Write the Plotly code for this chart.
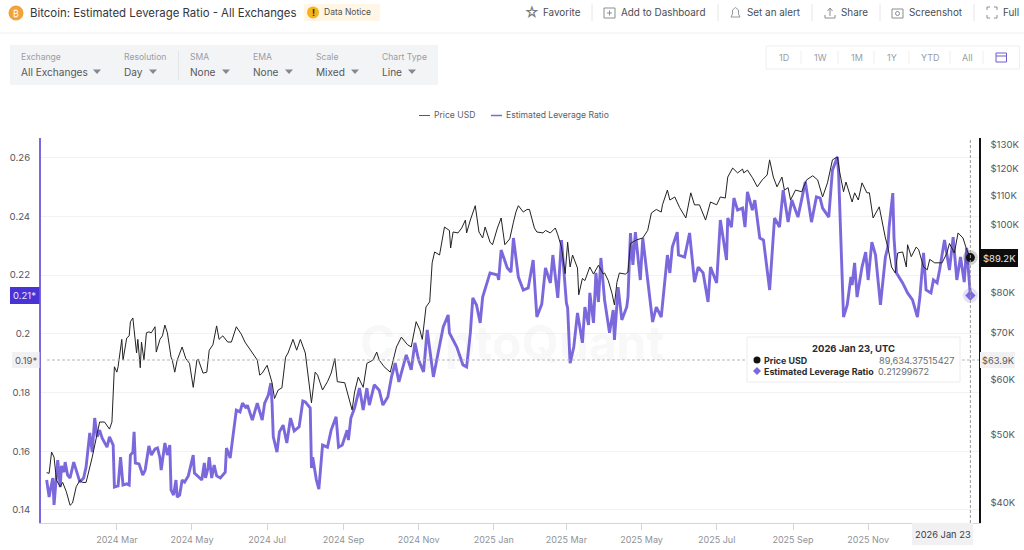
import pandas as pd
import plotly.graph_objects as go

W, H = 1024, 550
START = "2024-01-01"

lev_days = [3,4,5,6,8,9,12,14,15,17,18,20,22,25,28,30,33,35,38,40,42,44,46,48,52,54,57,58,61,62,63,65,68,70,71,73,74,75,78,81,83,86,88,91,93,95,96,99,101,103,104,106,108,109,111,113,115,118,122,123,125,127,129,131,132,134,135,137,139,141,144,148,149,152,153,155,157,160,162,165,166,170,174,178,180,183,185,186,187,190,192,195,198,201,204,208,211,213,217,218,219,222,224,227,231,234,238,240,243,247,248,250,253,257,260,263,265,269,273,276,280,283,286,289,295,299,302,305,309,312,317,325,329,330,336,341,344,347,349,352,355,357,363,369,370,372,377,380,382,386,390,394,398,401,405,408,412,414,418,421,425,426,428,431,434,438,440,443,444,447,449,451,453,456,460,463,464,467,470,474,475,477,479,481,485,487,490,495,498,502,507,509,511,515,516,521,525,529,532,536,540,542,546,547,550,555,556,559,561,564,568,570,572,576,578,582,585,590,594,598,601,605,608,613,619,624,628,631,633,638,641,645,646,648,650,653,656,657,659,661,665,668,670,673,676,680,684,686,687,690,691,693,698,702,706,710,712,715,717,721,723,726,728,732,736,739,742,745,748,750,752,753]
lev_vals = [.1502,.1468,.1444,.1468,.1509,.1417,.1570,.1478,.1550,.1529,.1563,.1519,.1509,.1563,.1519,.1495,.1509,.1546,.1662,.1597,.1713,.1649,.1672,.1645,.1614,.1649,.1621,.1478,.1482,.1536,.1580,.1485,.1489,.1485,.1587,.1597,.1666,.1560,.1557,.1519,.1536,.1618,.1587,.1608,.1611,.1577,.1536,.1628,.1587,.1621,.1468,.1451,.1502,.1444,.1451,.1502,.1495,.1516,.1587,.1526,.1519,.1509,.1502,.1560,.1509,.1543,.1580,.1509,.1553,.1516,.1509,.1529,.1611,.1577,.1611,.1672,.1740,.1734,.1764,.1747,.1757,.1706,.1764,.1706,.1764,.1791,.1832,.1764,.1649,.1597,.1666,.1689,.1628,.1713,.1669,.1683,.1771,.1768,.1747,.1543,.1580,.1502,.1471,.1621,.1614,.1672,.1717,.1614,.1621,.1672,.1638,.1713,.1747,.1815,.1740,.1815,.1757,.1826,.1808,.1757,.1785,.1853,.1900,.1836,.1928,.1877,.1969,.1911,.1870,.2013,.1853,.2023,.2064,.2003,.1955,.1894,.1887,.2003,.2122,.2098,.2037,.2125,.2207,.2200,.2183,.2285,.2224,.2210,.2326,.2193,.2149,.2156,.2251,.2057,.2101,.2224,.2173,.2268,.2122,.2319,.2105,.2088,.1900,.1955,.2071,.1969,.2091,.2030,.2139,.2037,.2207,.2108,.2258,.2115,.2003,.2081,.1979,.2159,.2047,.2091,.2125,.2343,.2234,.2346,.2183,.2326,.2217,.2040,.2091,.2057,.2268,.2207,.2295,.2346,.2268,.2261,.2343,.2176,.2227,.2207,.2108,.2227,.2183,.2173,.2387,.2251,.2394,.2363,.2462,.2421,.2428,.2363,.2483,.2421,.2455,.2326,.2319,.2149,.2394,.2363,.2489,.2380,.2455,.2397,.2517,.2380,.2466,.2462,.2428,.2397,.2557,.2602,.2547,.2261,.2057,.2098,.2193,.2166,.2241,.2125,.2227,.2278,.2183,.2312,.2268,.2098,.2261,.2295,.2363,.2479,.2326,.2207,.2173,.2139,.2115,.2057,.2125,.2275,.2149,.2139,.2183,.2173,.2217,.2319,.2217,.2329,.2183,.2261,.2176,.2292,.2173,.21299672]

price_days = [3,5,7,9,11,14,16,19,22,24,27,30,32,35,40,44,46,50,54,56,57,58,60,61,64,65,68,70,71,73,74,76,77,79,80,82,84,86,88,91,92,95,97,99,101,104,105,107,109,113,116,119,122,125,126,130,133,135,138,141,143,146,150,153,157,161,164,168,174,176,178,182,184,186,188,191,194,197,199,203,206,209,213,215,218,221,223,225,227,231,234,237,239,245,247,251,253,256,260,263,268,271,273,277,282,287,291,296,299,303,306,308,311,314,316,318,322,326,330,331,333,337,340,343,344,347,351,354,357,359,363,365,369,372,375,379,382,384,386,390,393,395,399,401,406,408,412,416,418,421,424,426,428,430,434,435,438,440,444,447,451,455,456,459,462,464,466,468,473,475,477,482,487,491,494,498,502,503,507,509,513,517,522,526,529,533,538,542,547,550,554,556,560,564,568,569,572,576,580,584,588,590,593,596,600,602,605,607,611,616,620,625,629,633,637,641,645,647,650,652,657,659,662,665,669,671,674,679,684,686,689,692,694,698,701,702,705,709,711,715,718,720,724,730,734,736,740,743,747,750,753]
price_vals = [44.2,44.1,47.3,46.5,43.1,42.2,42.8,41.5,39.7,40.0,42.2,43.1,42.8,42.8,46.5,50.0,52.2,52.2,51.0,52.2,56.4,62.6,61.5,62.6,68.5,64.0,68.8,69.3,72.6,73.5,70.7,65.5,68.5,62.4,67.9,64.0,70.0,70.2,70.0,71.4,65.7,68.5,69.3,71.8,70.0,64.6,64.0,61.5,64.0,66.8,64.3,63.3,58.5,64.0,64.2,61.3,61.5,66.1,67.3,71.6,68.5,69.3,67.9,67.9,71.4,69.7,67.9,66.4,64.0,60.9,61.3,62.9,61.3,59.4,56.4,58.0,58.4,64.6,65.5,68.5,66.1,68.5,65.5,61.3,55.6,61.5,60.9,59.4,58.0,59.6,61.3,64.3,59.6,59.4,57.6,54.3,57.6,60.5,58.5,63.3,64.0,65.7,64.0,62.6,61.5,66.8,69.0,67.3,66.8,72.6,70.7,68.5,76.2,77.5,88.1,91.3,90.4,99.1,98.0,92.5,97.5,97.2,98.8,101.4,97.2,101.4,106.3,97.5,95.6,99.1,94.3,93.5,98.8,102.1,93.5,95.3,100.7,104.1,106.3,104.1,105.0,105.0,98.8,97.5,97.2,98.0,97.2,98.8,96.6,92.8,85.0,94.3,86.9,90.4,86.6,79.3,83.7,83.1,86.9,84.9,87.4,84.9,85.2,83.1,79.7,76.7,82.6,85.2,84.9,85.5,93.9,95.0,95.6,98.0,103.8,105.0,104.1,106.6,111.9,108.3,109.4,105.6,102.1,110.9,106.6,106.6,101.4,107.6,106.6,109.4,109.0,116.8,120.3,118.4,119.9,118.4,119.5,116.6,113.1,115.7,117.6,123.6,116.8,113.1,116.8,111.9,112.8,108.3,111.9,111.3,115.7,117.3,115.7,109.4,114.6,123.6,124.8,118.4,111.3,114.9,107.6,110.9,108.3,114.6,110.9,110.9,102.1,105.9,95.6,92.8,86.9,85.2,91.0,91.3,86.9,93.5,89.9,92.8,92.0,86.9,86.1,89.1,88.1,88.1,91.0,93.9,91.0,97.2,95.6,92.0,89.63437515]

x_ticks = ["2024-03-01","2024-05-01","2024-07-01","2024-09-01","2024-11-01","2025-01-01","2025-03-01","2025-05-01","2025-07-01","2025-09-01","2025-11-01"]
x_labels = ["2024 Mar","2024 May","2024 Jul","2024 Sep","2024 Nov","2025 Jan","2025 Mar","2025 May","2025 Jul","2025 Sep","2025 Nov"]
lev_ticks = [0.14,0.16,0.18,0.20,0.22,0.24,0.26]
lev_labels = ["0.14","0.16","0.18","0.2","0.22","0.24","0.26"]
price_ticks = [40,50,60,70,80,100,110,120,130]

FONT = "Inter"
PURPLE = "#7B68DC"
GREY = "#8a8d93"
DARK = "#3a3d42"

def dates(days):
    return pd.to_datetime(START) + pd.to_timedelta(days, unit="D")

lev_x = dates(lev_days)
price_x = dates(price_days)
price_usd = [v * 1000 for v in price_vals]

fig = go.Figure()
fig.add_trace(go.Scatter(x=lev_x, y=lev_vals, mode="lines", name="Estimated Leverage Ratio",
                         line=dict(color=PURPLE, width=2.9), yaxis="y", hoverinfo="skip"))
fig.add_trace(go.Scatter(x=price_x, y=price_usd, mode="lines", name="Price USD",
                         line=dict(color="#222222", width=1), yaxis="y2", hoverinfo="skip"))
# hover halos and end markers
fig.add_trace(go.Scatter(x=lev_x[-1:], y=lev_vals[-1:], mode="markers", yaxis="y", hoverinfo="skip",
                         marker=dict(symbol="circle", size=15, color="rgba(123,104,220,0.2)")))
fig.add_trace(go.Scatter(x=lev_x[-1:], y=lev_vals[-1:], mode="markers", yaxis="y", hoverinfo="skip",
                         marker=dict(symbol="diamond", size=8, color=PURPLE)))
fig.add_trace(go.Scatter(x=price_x[-1:], y=price_usd[-1:], mode="markers", yaxis="y2", hoverinfo="skip",
                         marker=dict(symbol="circle", size=15, color="rgba(0,0,0,0.18)")))
fig.add_trace(go.Scatter(x=price_x[-1:], y=price_usd[-1:], mode="markers", yaxis="y2", hoverinfo="skip",
                         marker=dict(symbol="circle", size=9, color="#111111")))

def px(x): return x / W
def py(y): return 1 - y / H

shapes, annos = [], []

def rect(x0, y0, x1, y1, fill="rgba(0,0,0,0)", line="rgba(0,0,0,0)", lw=1, layer="above"):
    shapes.append(dict(type="rect", xref="paper", yref="paper", x0=px(x0), x1=px(x1), y0=py(y0), y1=py(y1),
                       fillcolor=fill, line=dict(color=line, width=lw), layer=layer))

def seg(x0, y0, x1, y1, color="#e9e9ec", lw=1, dash="solid"):
    shapes.append(dict(type="line", xref="paper", yref="paper", x0=px(x0), x1=px(x1), y0=py(y0), y1=py(y1),
                       line=dict(color=color, width=lw, dash=dash), layer="above"))

def circ(x, y, r, fill, line="rgba(0,0,0,0)"):
    shapes.append(dict(type="circle", xref="paper", yref="paper", x0=px(x-r), x1=px(x+r), y0=py(y+r), y1=py(y-r),
                       fillcolor=fill, line=dict(color=line, width=1), layer="above"))

def path(pts, fill="rgba(0,0,0,0)", line="rgba(0,0,0,0)", lw=1, close=True):
    d = "M " + " L ".join(f"{px(a):.5f},{py(b):.5f}" for a, b in pts) + (" Z" if close else "")
    shapes.append(dict(type="path", xref="paper", yref="paper", path=d, fillcolor=fill,
                       line=dict(color=line, width=lw), layer="above"))

def text(x, y, s, size=10, color=DARK, anchor="left", weight=None):
    t = f"<b>{s}</b>" if weight else s
    nudge = {"left": -1, "right": 1}.get(anchor, 0)
    annos.append(dict(xref="paper", yref="paper", x=px(x + nudge), y=py(y), text=t, showarrow=False,
                      xanchor=anchor, yanchor="middle", align=anchor, borderpad=0,
                      font=dict(family=FONT, size=size, color=color)))

def caret(x, y):
    path([(x-4, y-2), (x+4, y-2), (x, y+2.5)], fill="#85888e")

# watermark
text(512, 342, "CryptoQuant", size=48, color="rgba(60,60,70,0.055)", anchor="center", weight=True)

# title row
circ(16, 13, 7.5, "#F2A13B")
text(16, 13, "₿", size=9, color="#ffffff", anchor="center")
text(30, 13, "Bitcoin: Estimated Leverage Ratio - All Exchanges", size=11.4, color="#33363b")
rect(304, 4, 380, 21, fill="#FFF6E6")
circ(313, 12.5, 6, "#F5B31E")
text(313, 12.5, "!", size=9, color="#3a2a00", anchor="center", weight=True)
text(324, 12.5, "Data Notice", size=8.5, color="#55514a")
seg(0, 33, W, 33, color="#efeff1")

# top-right actions
for x, s in [(543, "Favorite"), (621, "Add to Dashboard"), (747, "Set an alert"),
             (841, "Share"), (909, "Screenshot"), (1003, "Full")]:
    text(x, 12.5, s, size=9.9, color="#4a4d52")
for x in [592, 718, 812, 880, 974]:
    seg(x, 4, x, 21, color="#e6e6e9")
text(532, 12.5, "☆", size=15, color="#777a80", anchor="center")
rect(604, 8, 615, 18, line="#8a8d93")
seg(607, 13, 612, 13, color="#8a8d93"); seg(609.5, 10.5, 609.5, 15.5, color="#8a8d93")
path([(731, 17), (740, 17), (738.5, 14), (738.5, 10), (735.5, 7.5), (732.5, 10), (732.5, 14)], line="#8a8d93", lw=0.9)
path([(830, 9), (830, 16)], line="#8a8d93", close=False)
path([(827.5, 11), (830, 8), (832.5, 11)], line="#8a8d93", close=False)
path([(825, 15), (825, 18), (835, 18), (835, 15)], line="#8a8d93", close=False)
rect(892, 9, 903, 18, line="#8a8d93")
circ(897.5, 13.5, 2, "rgba(0,0,0,0)", line="#8a8d93")
for a, b, c, d in [(987, 10, 987, 7), (987, 7, 990, 7), (994, 7, 997, 7), (997, 7, 997, 10),
                   (987, 15, 987, 18), (987, 18, 990, 18), (994, 18, 997, 18), (997, 15, 997, 18)]:
    seg(a, b, c, d, color="#8a8d93")

# filter bar
rect(10, 45, 438, 85, fill="#F3F4F6")
seg(178.5, 51, 178.5, 80, color="#e3e4e8")
for x, lab, val, cx in [(21, "Exchange", "All Exchanges", 97), (124, "Resolution", "Day", 153),
                        (190, "SMA", "None", 226), (253, "EMA", "None", 289),
                        (316, "Scale", "Mixed", 355), (382, "Chart Type", "Line", 412)]:
    text(x, 57, lab, size=8.6, color="#9a9da3")
    text(x, 71.5, val, size=10.1, color="#55585e")
    caret(cx, 71.5)

# range selector
rect(766, 46, 1019.5, 69, line="#eeeef0", fill="#ffffff")
for x, s in [(784, "1D"), (820, "1W"), (857, "1M"), (892, "1Y"), (930, "YTD"), (967, "All")]:
    text(x, 57.5, s, size=9, color="#9a9da3", anchor="center")
for x in [801, 838, 874, 909, 950, 983]:
    seg(x, 51, x, 64, color="#eeeef0")
rect(996, 53, 1006.5, 62, line="#6E5BD0")
seg(996, 56, 1006.5, 56, color="#6E5BD0")

# legend
seg(419, 115.5, 430, 115.5, color="#55585e")
text(434, 115.5, "Price USD", size=8.6, color="#5b5e64")
seg(491, 115.5, 502, 115.5, color=PURPLE, lw=1.5)
text(506, 115.5, "Estimated Leverage Ratio", size=8.6, color="#5b5e64")

# crosshair (date + level taken from the end of the data)
shapes.append(dict(type="line", xref="x", yref="paper", x0=lev_x[-1], x1=lev_x[-1], y0=py(523), y1=py(138),
                   line=dict(color="#9a9a9a", width=1, dash="3px,2px"), layer="above"))
seg(47, 360, 979, 360, color="#b5b5b5", dash="3px,2px")

# axis badges
rect(10, 287, 39.5, 304, fill="#4A33D6")
text(24.5, 295.5, "0.21*", size=9.5, color="#e8e6fb", anchor="center")
rect(12, 352, 39.5, 368, fill="#F1F1F3")
text(26, 360, "0.19*", size=9.5, color="#55585e", anchor="center")
rect(980, 249, 1018, 267, fill="#0d0d0d")
text(999, 258, "$89.2K", size=9.5, color="#e8e8e8", anchor="center")
rect(980, 352, 1015, 368, fill="#F1F1F3")
text(997.5, 360, "$63.9K", size=9.3, color="#55585e", anchor="center")
rect(912, 523, 973, 545, fill="#F1F1F3")
text(943, 534, "2026 Jan 23", size=9.3, color="#3a3d42", anchor="center")

# tooltip
rect(747, 337, 960, 382, fill="#ffffff", line="#ececef")
text(853, 348, "2026 Jan 23, UTC", size=9.5, color="#2a2c30", anchor="center", weight=True)
circ(757, 360, 3.5, "#111111")
text(764, 360, "Price USD", size=8.9, color="#2a2c30", weight=True)
text(954, 360, "89,634.37515427", size=9.2, color="#6a6d73", anchor="right")
path([(757, 367), (761, 371), (757, 375), (753, 371)], fill=PURPLE)
text(764, 371.5, "Estimated Leverage Ratio", size=8.9, color="#2a2c30", weight=True)
text(878, 371.5, "0.21299672", size=9.2, color="#6a6d73")

fig.update_layout(
    width=W, height=H, autosize=False, showlegend=False,
    margin=dict(l=0, r=0, t=0, b=0, pad=0),
    paper_bgcolor="#ffffff", plot_bgcolor="#ffffff",
    font=dict(family=FONT, size=10, color="#55585e"),
    shapes=shapes, annotations=annos,
    xaxis=dict(domain=[px(40.5), px(979)], type="date", range=["2023-12-30", "2026-01-30"],
               tickmode="array", tickvals=x_ticks, ticktext=x_labels, showgrid=False, zeroline=False,
               showline=True, linecolor="#d4d5da", linewidth=1, ticks="outside", ticklen=6, tickcolor="#d4d5da",
               tickfont=dict(family=FONT, size=9, color="#8f9298"), ticklabelstandoff=2),
    yaxis=dict(domain=[py(523), py(138)], range=[0.13557, 0.26664], tickmode="array",
               tickvals=lev_ticks, ticktext=lev_labels, showgrid=True, gridcolor="#f2f2f4", gridwidth=1,
               zeroline=False, showline=True, linecolor=PURPLE, linewidth=1.5, ticks="",
               ticklabelstandoff=7, tickfont=dict(family=FONT, size=9.6, color="#55585e")),
    yaxis2=dict(domain=[py(523), py(138)], type="log", range=[4.5735, 5.1232], overlaying="y", side="right",
                tickmode="array", tickvals=[v * 1000 for v in price_ticks],
                ticktext=[f"${v}K" for v in price_ticks], showgrid=False, zeroline=False,
                showline=True, linecolor="#111111", linewidth=1.5, ticks="", ticklabelstandoff=8,
                tickfont=dict(family=FONT, size=9.6, color="#55585e")),
)

fig.write_html("out.html", config=dict(displayModeBar=False, staticPlot=True),
               post_script="document.body.style.margin='0';document.body.style.overflow='hidden';")
